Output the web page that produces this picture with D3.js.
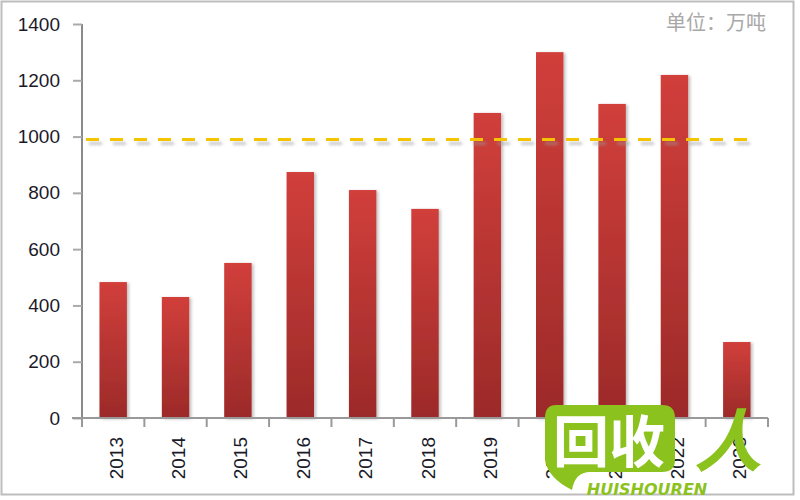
<!DOCTYPE html>
<html><head><meta charset="utf-8">
<script src="https://cdn.jsdelivr.net/npm/d3@7/dist/d3.min.js"></script>
<style>body{margin:0;background:#fff}svg{display:block}</style>
</head><body>
<script>
const categories = ["2013","2014","2015","2016","2017","2018","2019","2020","2021","2022","2023"];
const values = [483,430,551,874,810,743,1084,1300,1116,1219,270];
const refValue = [990];
const yTicks = [0,200,400,600,800,1000,1200,1400];
const unitLabel = "单位：万吨";

const W=800,H=500;
const svg=d3.select("body").append("svg").attr("width",W).attr("height",H);
const defs=svg.append("defs");
const g1=defs.append("linearGradient").attr("id","barGrad").attr("x1",0).attr("y1",0).attr("x2",0).attr("y2",1);
g1.append("stop").attr("offset","0%").attr("stop-color","#d13f3b");
g1.append("stop").attr("offset","100%").attr("stop-color","#9c2a29");
const f=defs.append("filter").attr("id","shadow").attr("x","-30%").attr("y","-30%").attr("width","160%").attr("height","160%");
f.append("feDropShadow").attr("dx",2).attr("dy",1).attr("stdDeviation",1.5).attr("flood-color","#000").attr("flood-opacity",0.25);
const f2=defs.append("filter").attr("id","blur").attr("filterUnits","userSpaceOnUse")
 .attr("x",0).attr("y",0).attr("width",800).attr("height",500);
f2.append("feGaussianBlur").attr("stdDeviation",1.6);

// frame
svg.append("rect").attr("x",1.5).attr("y",1.5).attr("width",792).attr("height",493).attr("fill","none").attr("stroke","#bdbdbd").attr("stroke-width",2);

const x=d3.scaleBand().domain(categories).range([82,768]).paddingInner(0.56).paddingOuter(0.28);
const y=d3.scaleLinear().domain([0,1400]).range([418,24]);

// bars
svg.append("g").selectAll("rect").data(values).join("rect")
 .attr("x",(d,i)=>x(categories[i])).attr("width",x.bandwidth())
 .attr("y",d=>y(d)).attr("height",d=>y(0)-y(d))
 .attr("fill","url(#barGrad)").attr("filter","url(#shadow)");

// y axis
const ya=svg.append("g").attr("transform","translate(82,0)")
 .call(d3.axisLeft(y).tickValues(yTicks).tickSize(9).tickPadding(13).tickFormat(d3.format("d")));
ya.select(".domain").attr("stroke","#8a8a8a").attr("stroke-width",2).attr("d","M0,24V418");
ya.selectAll(".tick line").attr("stroke","#aaaaaa").attr("stroke-width",2);
ya.selectAll("text").attr("font-family","Liberation Sans, Arial, sans-serif").attr("font-size",19).attr("fill","#1a1a2a");

// x axis
const xa=svg.append("g").attr("transform","translate(0,418)");
xa.append("line").attr("x1",72).attr("x2",768).attr("y1",0).attr("y2",0).attr("stroke","#999").attr("stroke-width",2);
const tickPos=categories.map((c,i)=>x(c)-x.step()*x.paddingInner()/2).concat([768]);
xa.selectAll("line.t").data(tickPos).join("line").attr("class","t")
 .attr("x1",d=>d).attr("x2",d=>d).attr("y1",0).attr("y2",9).attr("stroke","#999").attr("stroke-width",2);
xa.selectAll("text").data(categories).join("text")
 .attr("transform",d=>`translate(${x(d)+x.bandwidth()/2+9.5},${19}) rotate(-90)`)
 .attr("text-anchor","end").attr("font-family","Liberation Sans, Arial, sans-serif").attr("font-size",19)
 .attr("fill","#1a1a2a").text(d=>d);

// reference dashed line with soft shadow
const rl=svg.append("g");
rl.selectAll("line.s").data(refValue).join("line").attr("class","s")
 .attr("x1",89).attr("x2",759).attr("y1",d=>y(d)+4).attr("y2",d=>y(d)+4)
 .attr("stroke","#999").attr("stroke-opacity",0.55).attr("stroke-width",3).attr("stroke-dasharray","13,11")
 .attr("filter","url(#blur)");
rl.selectAll("line.m").data(refValue).join("line").attr("class","m")
 .attr("x1",86).attr("x2",756).attr("y1",d=>y(d)).attr("y2",d=>y(d))
 .attr("stroke","#f5c400").attr("stroke-width",3).attr("stroke-dasharray","13,11");

// unit
svg.append("text").attr("x",766).attr("y",30).attr("text-anchor","end")
 .attr("font-family","Noto Sans CJK SC, sans-serif").attr("font-size",20).attr("fill","#a8a8a8").text(unitLabel);

// watermark
const wm=svg.append("g");
wm.append("path").attr("d","M556,405 H662 Q675,405 675,418 V460 Q675,472 662,472 H590 Q575,472 572,490 Q548,478 545,460 V418 Q545,405 556,405 Z").attr("fill","#8cc21e");
wm.append("text").attr("x",609).attr("y",462).attr("text-anchor","middle").attr("font-family","Noto Sans CJK SC, sans-serif").attr("font-weight","bold").attr("font-size",56).attr("fill","#fff").text("回收");
wm.append("text").attr("x",728).attr("y",466).attr("text-anchor","middle").attr("font-family","Noto Sans CJK SC, sans-serif").attr("font-weight","bold").attr("font-size",68).attr("font-style","italic").attr("fill","#8cc21e").text("人");
wm.append("text").attr("x",647).attr("y",495).attr("text-anchor","middle").attr("font-family","DejaVu Sans, sans-serif").attr("font-weight","bold").attr("font-style","italic").attr("font-size",16).attr("fill","#8cc21e").text("HUISHOUREN");
</script>
</body></html>
